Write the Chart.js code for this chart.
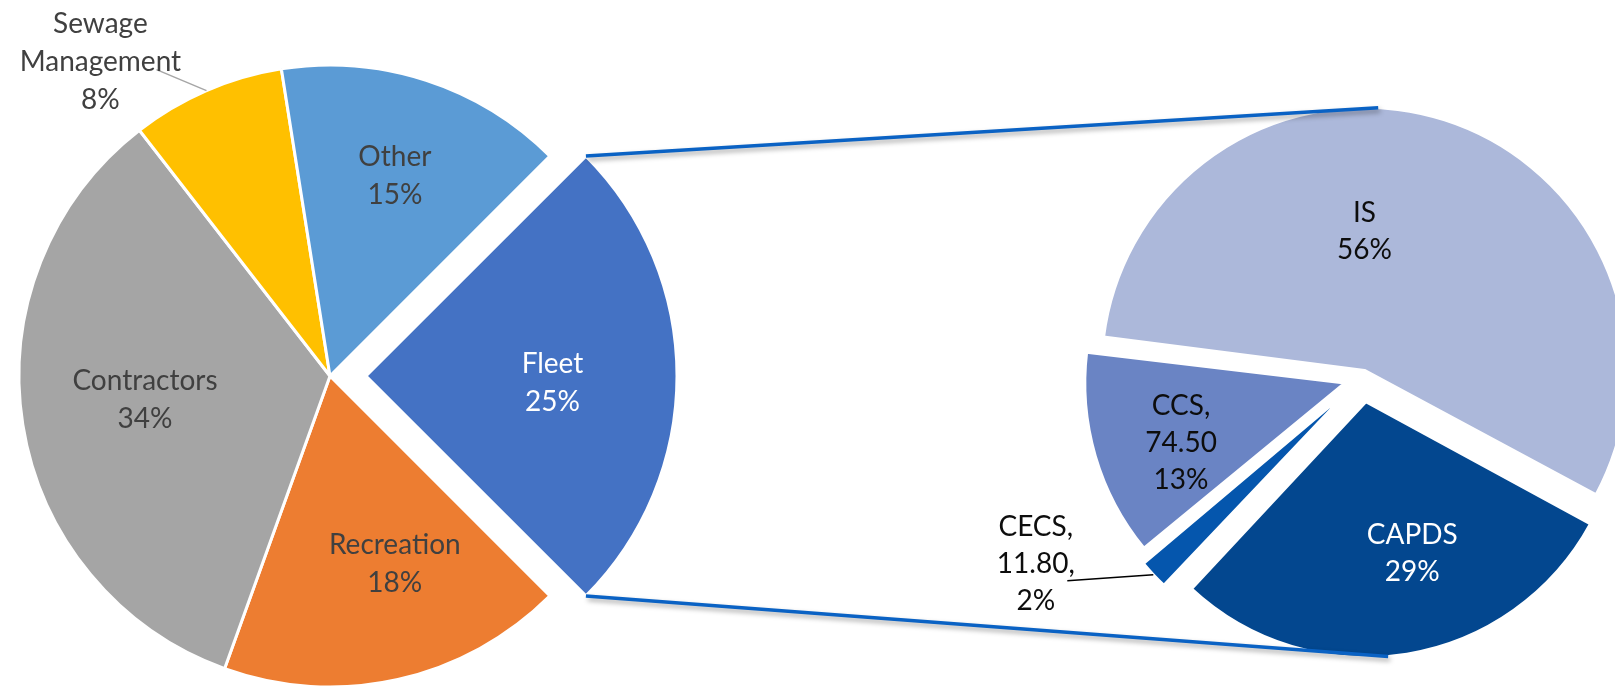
<!DOCTYPE html>
<html lang="en">
<head>
<meta charset="UTF-8">
<meta name="viewport" content="width=device-width, initial-scale=1.0">
<title>Spend by Department</title>
<style>
  html, body { margin: 0; padding: 0; background: #fff; overflow: hidden; }
  .layer { position: absolute; left: 0; top: 0; }
</style>
</head>
<body>
<canvas id="mainPie" class="layer" width="1615" height="688"></canvas>
<canvas id="fleetPie" class="layer" width="1615" height="688"></canvas>

<script src="https://cdn.jsdelivr.net/npm/chart.js"></script>
<script>
// Department shares (percent), clockwise starting with Fleet
const deptLabels = ['Fleet', 'Recreation', 'Contractors', 'Sewage Management', 'Other'];
const deptValues = [25, 18, 34, 8, 15];
const deptColors = ['#4472C4', '#ED7D31', '#A5A5A5', '#FFC000', '#5B9BD5'];

// Fleet broken down by unit, clockwise starting with IS
const fleetLabels = ['IS', 'CAPDS', 'CECS', 'CCS'];
const fleetValues = [322.0, 167.0, 11.80, 74.50];
const fleetColors = ['#ACB8DA', '#03478F', '#0556AD', '#6A84C4'];

const FONT = '28px Lato, "Open Sans", sans-serif';

// Where an arc really ends up: Chart.js moves an offset slice by offset/4
// and grows wide slices a little, so mirror that here.
function sliceGeom(arc) {
  const mid = (arc.startAngle + arc.endAngle) / 2;
  const shift = (arc.options.offset || 0) / 4;
  const circ = arc.endAngle - arc.startAngle;
  const grow = shift * (1 - Math.sin(Math.min(Math.PI, circ)));
  return {
    mid: mid,
    cx: arc.x + Math.cos(mid) * shift,
    cy: arc.y + Math.sin(mid) * shift,
    r: arc.outerRadius + grow
  };
}

// Multi-line slice labels, placed in polar terms around each slice centre
function labelPlugin(cfg) {
  return {
    id: 'sliceLabels',
    afterDatasetsDraw(chart) {
      const ctx = chart.ctx;
      const arcs = chart.getDatasetMeta(0).data;
      const values = chart.data.datasets[0].data;
      const total = values.reduce((a, b) => a + b, 0);
      ctx.save();
      ctx.font = FONT;
      ctx.textAlign = 'center';
      ctx.textBaseline = 'middle';
      arcs.forEach((arc, i) => {
        const p = cfg.place[i];
        const g = sliceGeom(arc);
        const a = p.angle == null ? g.mid : p.angle * Math.PI / 180;
        const x = g.cx + Math.cos(a) * g.r * p.r;
        const y = g.cy + Math.sin(a) * g.r * p.r;
        if (p.leader) {
          const sx = g.cx + Math.cos(g.mid) * g.r;
          const sy = g.cy + Math.sin(g.mid) * g.r;
          ctx.beginPath();
          ctx.moveTo(sx, sy);
          ctx.lineTo(sx + p.leader.dx, sy + p.leader.dy);
          ctx.strokeStyle = p.leader.color;
          ctx.lineWidth = 1.5;
          ctx.stroke();
        }
        const lines = cfg.text(i, Math.round(values[i] / total * 100));
        ctx.fillStyle = p.color || cfg.color;
        lines.forEach((t, k) => {
          ctx.fillText(t, x, y + (k - (lines.length - 1) / 2) * cfg.lineHeight);
        });
      });
      ctx.restore();
    }
  };
}

const mainPie = new Chart(document.getElementById('mainPie'), {
  type: 'pie',
  data: {
    labels: deptLabels,
    datasets: [{
      data: deptValues,
      backgroundColor: deptColors,
      borderColor: '#ffffff',
      borderWidth: 3,
      offset: [144, 0, 0, 0, 0]
    }]
  },
  options: {
    responsive: false,
    animation: false,
    events: [],
    radius: 311,
    rotation: 45,
    layout: { padding: { left: 0, right: 955, top: 64, bottom: 0 } },
    plugins: { legend: { display: false }, tooltip: { enabled: false } }
  },
  plugins: [labelPlugin({
    color: '#404040',
    lineHeight: 38,
    text: (i, pct) => deptLabels[i].split(' ').concat(pct + '%'),
    place: [
      { angle: 2, r: 0.6, color: '#ffffff' },
      { angle: 71, r: 0.64 },
      { angle: 172.6, r: 0.6 },
      { angle: 233.8, r: 1.25, leader: { dx: -50, dy: -21, color: '#A6A6A6' } },
      { angle: null, r: 0.675 }
    ]
  })]
});

// Blue connector lines from the exploded Fleet slice to the breakdown pie
const connectors = {
  id: 'connectors',
  afterDatasetsDraw(chart) {
    const fleet = mainPie.getDatasetMeta(0).data[0];
    const f = sliceGeom(fleet);
    const arcs = chart.getDatasetMeta(0).data;
    const edge = (arc, deg) => {
      const g = sliceGeom(arc);
      const a = deg * Math.PI / 180;
      return [g.cx + Math.cos(a) * g.r, g.cy + Math.sin(a) * g.r];
    };
    const top = edge(arcs[0], -87);
    const bottom = edge(arcs[1], 85);
    const ctx = chart.ctx;
    ctx.save();
    ctx.strokeStyle = '#0A62C4';
    ctx.lineWidth = 3.5;
    ctx.shadowColor = 'rgba(0, 0, 0, 0.35)';
    ctx.shadowBlur = 5;
    ctx.shadowOffsetX = 2;
    ctx.shadowOffsetY = 3;
    ctx.beginPath();
    ctx.moveTo(f.cx + Math.cos(fleet.startAngle) * f.r, f.cy + Math.sin(fleet.startAngle) * f.r);
    ctx.lineTo(top[0], top[1]);
    ctx.moveTo(f.cx + Math.cos(fleet.endAngle) * f.r, f.cy + Math.sin(fleet.endAngle) * f.r);
    ctx.lineTo(bottom[0], bottom[1]);
    ctx.stroke();
    ctx.restore();
  }
};

new Chart(document.getElementById('fleetPie'), {
  type: 'pie',
  data: {
    labels: fleetLabels,
    datasets: [{
      data: fleetValues,
      backgroundColor: fleetColors,
      borderColor: '#ffffff',
      borderWidth: 3,
      offset: [32, 96, 68, 72]
    }]
  },
  options: {
    responsive: false,
    animation: false,
    events: [],
    radius: 255,
    rotation: 277,
    layout: { padding: { left: 1109, right: 0, top: 68, bottom: 0 } },
    plugins: { legend: { display: false }, tooltip: { enabled: false } }
  },
  plugins: [connectors, labelPlugin({
    color: '#0D0D0D',
    lineHeight: 37,
    text: (i, pct) => {
      const name = fleetLabels[i];
      const v = fleetValues[i].toFixed(2);
      if (name === 'CECS') return [name + ',', v + ',', pct + '%'];
      if (name === 'CCS') return [name + ',', v, pct + '%'];
      return [name, pct + '%'];
    },
    place: [
      { angle: -90, r: 0.53 },
      { angle: 73, r: 0.62, color: '#ffffff' },
      { angle: 151, r: 1.33, leader: { dx: -86, dy: 6, color: '#000000' } },
      { angle: 160, r: 0.67 }
    ]
  })]
});
</script>
</body>
</html>
